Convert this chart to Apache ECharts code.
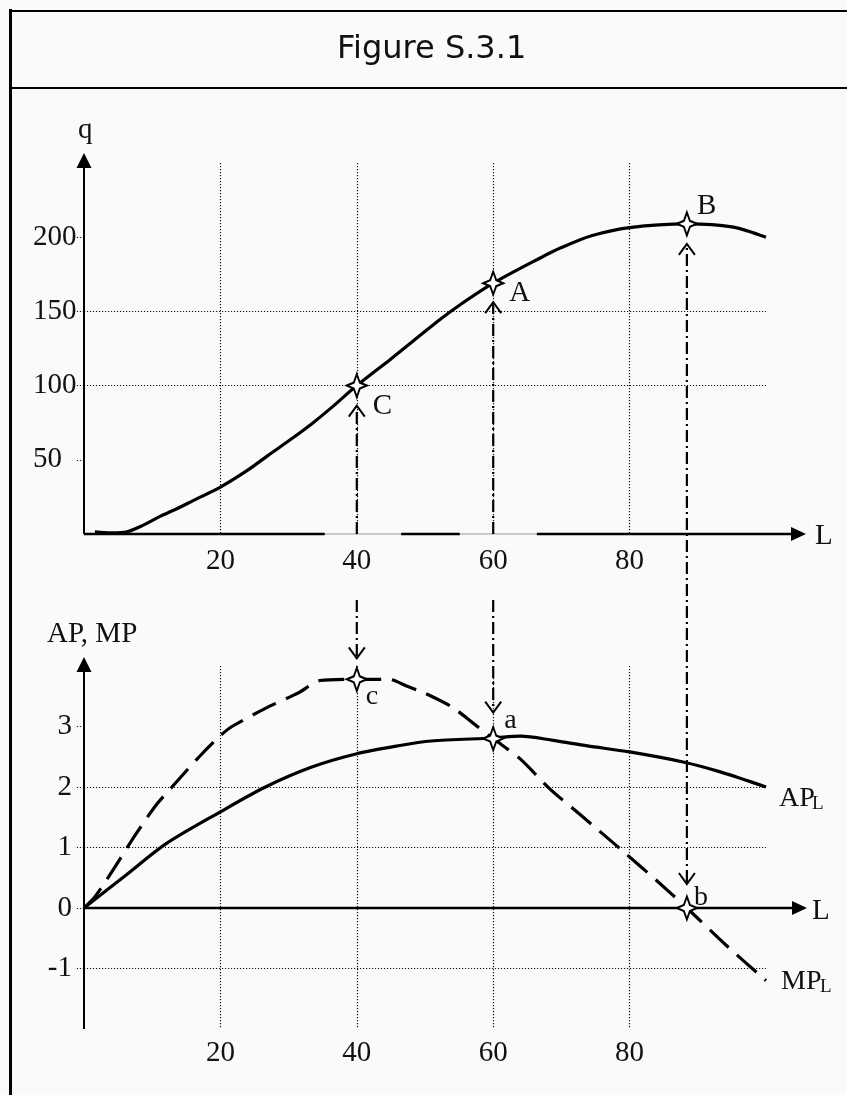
<!DOCTYPE html>
<html>
<head>
<meta charset="utf-8">
<title>Figure S.3.1</title>
<script src="https://cdn.jsdelivr.net/npm/echarts@6/dist/echarts.min.js"></script>
<style>
html,body{margin:0;padding:0;background:#fafafa;}
#main{width:847px;height:1095px;}
</style>
</head>
<body>
<div id="main"></div>
<script>
// total product q(L)
var qL   = [1.6, 4, 6.3, 8.7, 11, 13.6, 16, 20, 24, 27, 30.7, 33.6, 36.5, 40, 45, 52.2, 55, 60, 66.9, 70, 74.4, 80, 88.4, 95, 100];
var qVal = [1.5, 0.8, 1.5, 6, 11.5, 17, 22.5, 31.6, 43, 53, 65, 75, 86, 100, 118, 144.5, 154, 169, 186, 193, 201, 206.5, 209, 207, 200];

// average product AP_L
var apL   = [0, 6, 12, 20, 26.6, 33.4, 40, 46, 50.9, 60, 64, 68.8, 73.8, 80, 88, 93.3, 100];
var apVal = [0, 0.53, 1.06, 1.59, 2.0, 2.33, 2.55, 2.68, 2.76, 2.81, 2.84, 2.77, 2.68, 2.58, 2.41, 2.25, 2.0];

// marginal product MP_L
var mpL   = [0, 1.7, 4.1, 7.6, 10.5, 12.9, 16.9, 20, 21.7, 26.6, 31.5, 34.6, 40, 44.7, 47.5, 50, 54, 57, 60, 64, 68.3, 73, 78.6, 84, 88.4, 94, 100];
var mpVal = [0, 0.2, 0.6, 1.22, 1.69, 2.0, 2.5, 2.85, 3.0, 3.3, 3.56, 3.76, 3.78, 3.78, 3.66, 3.55, 3.32, 3.06, 2.8, 2.46, 1.97, 1.52, 0.98, 0.45, 0, -0.6, -1.2];

// marked points
var ptL     = [40, 60, 88.4];
var ptQ     = [100, 169, 209];
var ptMP    = [3.78, 2.8, 0];
var ptUpper = ['C', 'A', 'B'];
var ptLower = ['c', 'a', 'b'];

// ticks
var xTicks  = [20, 40, 60, 80];
var qTicks  = [50, 100, 150, 200];
var mpTicks = [-1, 0, 1, 2, 3];

function zip(a, b) { return a.map(function (v, i) { return [v, b[i]]; }); }

var serif = "'Liberation Serif','Times New Roman',serif";
var fs = 29;
var dotted = { color: '#111', width: 1.2, type: [1.2, 1.8] };
var star = 'path://M10,0 L13,8.5 L20,11.5 L13,14.5 L10,23 L7,14.5 L0,11.5 L7,8.5 Z';

var chart = echarts.init(document.getElementById('main'));

var option = {
    animation: false,
    backgroundColor: '#fafafa',
    grid: [
        { left: 84, top: 163, width: 682, height: 371 },
        { left: 84, top: 666, width: 682, height: 363 }
    ],
    xAxis: [0, 1].map(function (i) {
        return {
            type: 'value', gridIndex: i, min: 0, max: 100, interval: 20,
            axisLine: { show: false },
            axisTick: { show: false },
            axisLabel: { fontFamily: serif, fontSize: fs, color: '#111', margin: i ? 10 : 13, customValues: xTicks },
            splitLine: { show: true, showMinLine: false, showMaxLine: false, lineStyle: dotted }
        };
    }),
    yAxis: [
        {
            type: 'value', gridIndex: 0, min: 0, max: 250, interval: 50,
            axisLine: { show: false },
            axisTick: { show: true, length: 8, customValues: qTicks, lineStyle: dotted },
            axisLabel: { fontFamily: serif, fontSize: fs, color: '#111', align: 'left', margin: 51, customValues: qTicks },
            splitLine: { show: true, showMinLine: false, showMaxLine: false, lineStyle: dotted }
        },
        {
            type: 'value', gridIndex: 1, min: -2, max: 4, interval: 1,
            axisLine: { show: false },
            axisTick: { show: true, length: 8, customValues: mpTicks, lineStyle: dotted },
            axisLabel: { fontFamily: serif, fontSize: fs, color: '#111', margin: 12, customValues: mpTicks },
            splitLine: { show: true, showMinLine: true, showMaxLine: false, lineStyle: dotted }
        }
    ],
    series: [
        {
            name: 'q', type: 'line', xAxisIndex: 0, yAxisIndex: 0, data: zip(qL, qVal),
            smooth: 0.3, symbol: 'none', lineStyle: { color: '#000', width: 3.2 }, z: 3
        },
        {
            name: 'AP', type: 'line', xAxisIndex: 1, yAxisIndex: 1, data: zip(apL, apVal),
            smooth: 0.3, symbol: 'none', lineStyle: { color: '#000', width: 3.2 }, z: 3
        },
        {
            name: 'MP', type: 'line', xAxisIndex: 1, yAxisIndex: 1, data: zip(mpL, mpVal),
            smooth: 0.25, symbol: 'none', lineStyle: { color: '#000', width: 3.2, type: [26, 11] }, z: 3
        },
        {
            type: 'scatter', xAxisIndex: 0, yAxisIndex: 0, data: zip(ptL, ptQ),
            symbol: star, symbolSize: [20, 23], z: 10,
            itemStyle: { color: '#fff', borderColor: '#000', borderWidth: 2, opacity: 1 }
        },
        {
            type: 'scatter', xAxisIndex: 1, yAxisIndex: 1, data: zip(ptL, ptMP),
            symbol: star, symbolSize: [20, 23], z: 10,
            itemStyle: { color: '#fff', borderColor: '#000', borderWidth: 2, opacity: 1 }
        }
    ]
};
chart.setOption(option);

function px(gi, x, y) { return chart.convertToPixel({ gridIndex: gi }, [x, y]); }

var g = [];
function line(x1, y1, x2, y2, st) {
    g.push({ type: 'line', z: 5, shape: { x1: x1, y1: y1, x2: x2, y2: y2 }, style: st });
}
function poly(pts, st) {
    g.push({ type: 'polyline', z: 5, shape: { points: pts }, style: st });
}
function tri(pts) {
    g.push({ type: 'polygon', z: 5, shape: { points: pts }, style: { fill: '#000' } });
}
// y is the vertical middle of the glyphs
function text(t, x, y, size, fam) {
    g.push({ type: 'text', z: 6, x: x, y: y,
        style: { text: t, fill: '#111', font: size + 'px ' + (fam || serif), align: 'left', verticalAlign: 'middle' } });
}

// frame and title box
line(10.5, 9, 10.5, 1095, { stroke: '#000', lineWidth: 3 });
line(9, 11, 847, 11, { stroke: '#000', lineWidth: 2 });
line(9, 88, 847, 88, { stroke: '#000', lineWidth: 2 });
text('Figure S.3.1', 337, 50, 32, "'DejaVu Sans',Verdana,sans-serif");

var blk = { stroke: '#000', lineWidth: 2.5 };
var blkY = { stroke: '#000', lineWidth: 2 };

// top axes
var o0 = px(0, 0, 0), e0 = px(0, 100, 0), t0 = px(0, 0, 250);
var tipX0 = e0[0] + 40;
// the q axis baseline has two faint stretches in the original print
var gapL = [[35.3, 46.5], [55.1, 66.4]];
line(o0[0], o0[1], tipX0 - 14, o0[1], { stroke: '#999', lineWidth: 1 });
var segStart = 0;
gapL.concat([[200, 200]]).forEach(function (gp) {
    var a = px(0, segStart, 0)[0], b = Math.min(px(0, gp[0], 0)[0], tipX0 - 14);
    line(a, o0[1], b, o0[1], blk);
    segStart = gp[1];
});
tri([[tipX0, o0[1]], [tipX0 - 15, o0[1] - 7], [tipX0 - 15, o0[1] + 7]]);
text('L', tipX0 + 9, o0[1] + 2, fs);
var tipY0 = t0[1] - 10;
line(o0[0], o0[1], o0[0], tipY0 + 14, blkY);
tri([[o0[0], tipY0], [o0[0] - 7.5, tipY0 + 15], [o0[0] + 7.5, tipY0 + 15]]);
text('q', o0[0] - 6, tipY0 - 23, fs);

// bottom axes
var o1 = px(1, 0, 0), e1 = px(1, 100, 0), b1 = px(1, 0, -2), t1 = px(1, 0, 4);
var tipX1 = e1[0] + 41;
line(o1[0], o1[1], tipX1 - 14, o1[1], blk);
tri([[tipX1, o1[1]], [tipX1 - 15, o1[1] - 7], [tipX1 - 15, o1[1] + 7]]);
text('L', tipX1 + 5, o1[1] + 3, fs);
var tipY1 = t1[1] - 9;
line(b1[0], b1[1], b1[0], tipY1 + 14, blkY);
tri([[b1[0], tipY1], [b1[0] - 7.5, tipY1 + 15], [b1[0] + 7.5, tipY1 + 15]]);
text('AP, MP', 47, tipY1 - 23, fs);

// curve names
var apEnd = px(1, apL[apL.length - 1], apVal[apVal.length - 1]);
text('AP', apEnd[0] + 13, apEnd[1] + 12, 28);
text('L', apEnd[0] + 46, apEnd[1] + 17, 19);
var mpEnd = px(1, mpL[mpL.length - 1], mpVal[mpVal.length - 1]);
text('MP', mpEnd[0] + 15, mpEnd[1] + 1, 28);
text('L', mpEnd[0] + 54, mpEnd[1] + 6, 19);

// dash-dot projection arrows
var dd = { stroke: '#000', lineWidth: 2.2, lineDash: [12, 4, 2, 4] };
var chev = { stroke: '#000', lineWidth: 2, fill: 'none' };
var upOff = [20, 19, 20], downOff = [21, 26, 24];
var capOff = [[16, 21], [16, 10], [10, -17]];
var lowOff = [[9, 17], [11, -18], [7, -10]];
ptL.forEach(function (l, i) {
    var pu = px(0, l, ptQ[i]), pd = px(1, l, ptMP[i]);
    var x = pu[0];
    var upTip = pu[1] + upOff[i];
    var downTip = pd[1] - downOff[i];
    if (i < 2) {
        line(x, o0[1], x, upTip + 2, dd);
        line(x, o0[1] + 66, x, downTip - 2, dd);
    } else {
        line(x, downTip - 2, x, upTip + 2, dd);
    }
    poly([[x - 8, upTip + 11], [x, upTip], [x + 8, upTip + 11]], chev);
    poly([[x - 8, downTip - 11], [x, downTip], [x + 8, downTip - 11]], chev);
    text(ptUpper[i], pu[0] + capOff[i][0], pu[1] + capOff[i][1], fs);
    text(ptLower[i], pd[0] + lowOff[i][0], pd[1] + lowOff[i][1], 28);
});

chart.setOption({ graphic: g });
</script>
</body>
</html>
